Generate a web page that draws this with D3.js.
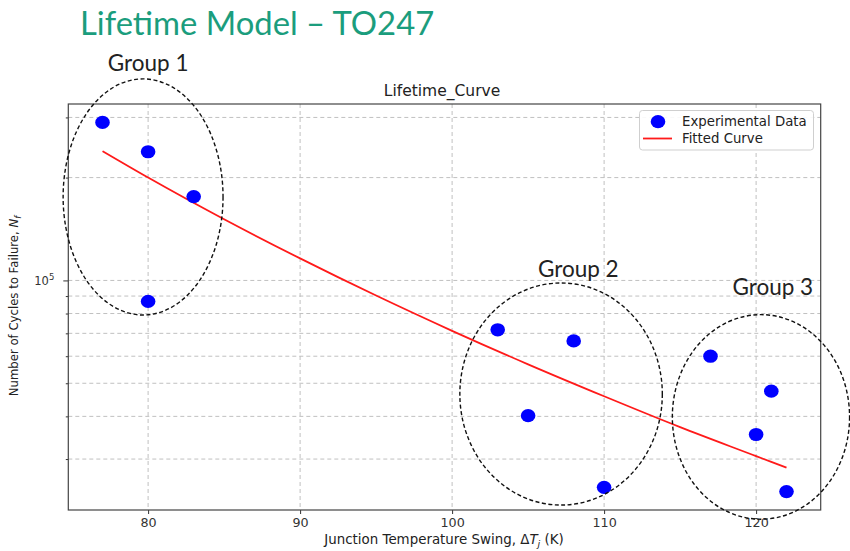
<!DOCTYPE html>
<html>
<head>
<meta charset="utf-8">
<script src="https://cdn.jsdelivr.net/npm/d3@7"></script>
<style>
  html, body { margin: 0; padding: 0; background: #fff; }
  svg { display: block; }
</style>
</head>
<body>
<svg id="chart" width="850" height="551"></svg>
<script>
// Measured thermal-cycling lifetimes (ΔTj in K, cycles to failure)
const deltaTj = [77, 80, 83, 80, 103, 105, 108, 110, 117, 120, 121, 122];
const cycles = [2.90e5, 2.38e5, 1.76e5, 8.68e4, 7.17e4, 4.02e4, 6.65e4, 2.48e4, 6.0e4, 3.54e4, 4.74e4, 2.41e4];

// Fitted lifetime curve, sampled along ΔTj
const fitTj = [77, 80, 85, 90, 95, 100, 105, 110, 115, 120, 122];
const fitCycles = [2.39e5, 2.00e5, 1.51e5, 1.16e5, 9.03e4, 7.12e4, 5.68e4, 4.58e4, 3.72e4, 3.06e4, 2.83e4];

// Axis ticks
const xTicks = [80, 90, 100, 110, 120];
const yMajorTicks = [1e5];
const yMinorTicks = [3e4, 4e4, 5e4, 6e4, 7e4, 8e4, 9e4, 2e5, 3e5];

// Group outlines: ΔTj range and cycle range each ellipse encloses
const groupNames = ["Group 1", "Group 2", "Group 3"];
const groupTj = [[74.41, 84.93], [100.51, 113.83], [114.49, 126.15]];
const groupCycles = [[7.92e4, 3.89e5], [2.20e4, 9.83e4], [2.00e4, 7.94e4]];
const groupLabelAt = [[80, 4.11e5], [108.3, 1.02e5], [121.1, 9.08e4]];

const svg = d3.select("#chart");
const plot = { left: 68.3, right: 820.7, top: 104, bottom: 510 };
const chartFont = "'DejaVu Sans', sans-serif";

// Axis limits with a 5% margin around the data (log margin on the y axis)
const xMin = d3.min(deltaTj), xMax = d3.max(deltaTj);
const xPad = (xMax - xMin) * 0.05;
const lMin = Math.log10(d3.min(cycles)), lMax = Math.log10(d3.max(cycles));
const lPad = (lMax - lMin) * 0.05;

const x = d3.scaleLinear().domain([xMin - xPad, xMax + xPad]).range([plot.left, plot.right]);
const y = d3.scaleLog().domain([Math.pow(10, lMin - lPad), Math.pow(10, lMax + lPad)]).range([plot.bottom, plot.top]);

svg.append("rect").attr("width", 850).attr("height", 551).attr("fill", "#fff");

// Slide title
svg.append("text")
  .attr("x", 80).attr("y", 35)
  .attr("font-family", "Lato, 'Open Sans', sans-serif")
  .attr("font-size", 32.8)
  .attr("fill", "#1b9d7d")
  .text("Lifetime Model – TO247");

// Grid
const grid = svg.append("g").attr("stroke", "#c0c0c0").attr("stroke-width", 1).attr("stroke-dasharray", "4,3");
grid.selectAll("line.gx").data(xTicks).join("line")
  .attr("x1", d => x(d)).attr("x2", d => x(d))
  .attr("y1", plot.top).attr("y2", plot.bottom);
grid.selectAll("line.gy").data(yMajorTicks.concat(yMinorTicks)).join("line")
  .attr("x1", plot.left).attr("x2", plot.right)
  .attr("y1", d => y(d)).attr("y2", d => y(d));

// Axes
const xAxis = d3.axisBottom(x).tickValues(xTicks).tickSize(4).tickPadding(4).tickFormat(d3.format("d"));
const gx = svg.append("g").attr("transform", `translate(0,${plot.bottom})`).call(xAxis);
gx.select(".domain").remove();
gx.selectAll("line").attr("stroke", "#333");
gx.selectAll("text").attr("font-family", chartFont).attr("font-size", 12.7).attr("fill", "#333");

const yMinorAxis = d3.axisLeft(y).tickValues(yMinorTicks).tickSize(2.5).tickFormat("");
const gyMinor = svg.append("g").attr("transform", `translate(${plot.left},0)`).call(yMinorAxis);
gyMinor.select(".domain").remove();
gyMinor.selectAll("line").attr("stroke", "#333");

const yAxis = d3.axisLeft(y).tickValues(yMajorTicks).tickSize(5).tickFormat("");
const gy = svg.append("g").attr("transform", `translate(${plot.left},0)`).call(yAxis);
gy.select(".domain").remove();
gy.selectAll("line").attr("stroke", "#333");
gy.selectAll(".tick").each(function(d) {
  const t = d3.select(this).append("text")
    .attr("x", -14).attr("dy", "0.38em")
    .attr("text-anchor", "end")
    .attr("font-family", chartFont)
    .attr("font-size", 11.5).attr("fill", "#333");
  t.append("tspan").text("10");
  t.append("tspan").attr("font-size", 8.5).attr("dy", "-0.6em").text(String(Math.round(Math.log10(d))));
});

// Plot frame
svg.append("rect")
  .attr("x", plot.left).attr("y", plot.top)
  .attr("width", plot.right - plot.left).attr("height", plot.bottom - plot.top)
  .attr("fill", "none").attr("stroke", "#444").attr("stroke-width", 1.2);

// Chart title and axis labels
svg.append("text")
  .attr("x", 442).attr("y", 96)
  .attr("text-anchor", "middle")
  .attr("font-family", chartFont).attr("font-size", 15.5).attr("fill", "#222")
  .text("Lifetime_Curve");

const xl = svg.append("text")
  .attr("x", 444).attr("y", 543.5)
  .attr("text-anchor", "middle")
  .attr("font-family", chartFont).attr("font-size", 13.4).attr("fill", "#222");
xl.append("tspan").text("Junction Temperature Swing, Δ");
xl.append("tspan").attr("font-style", "italic").text("T");
xl.append("tspan").attr("font-size", 9.5).attr("dy", 3).attr("font-style", "italic").text("j");
xl.append("tspan").attr("dy", -3).text(" (K)");

const yl = svg.append("text")
  .attr("transform", "translate(18,306) rotate(-90)")
  .attr("text-anchor", "middle")
  .attr("font-family", chartFont).attr("font-size", 11.7).attr("fill", "#222");
yl.append("tspan").text("Number of Cycles to Failure, ");
yl.append("tspan").attr("font-style", "italic").text("N");
yl.append("tspan").attr("font-style", "italic").attr("font-size", 8.5).attr("dy", 2.5).text("f");

// Fitted curve
const line = d3.line().x((d, i) => x(fitTj[i])).y((d, i) => y(fitCycles[i])).curve(d3.curveMonotoneX);
svg.append("path")
  .datum(fitCycles)
  .attr("d", line)
  .attr("fill", "none").attr("stroke", "#ff1a1a").attr("stroke-width", 1.8);

// Experimental points
svg.append("g").selectAll("ellipse").data(cycles).join("ellipse")
  .attr("cx", (d, i) => x(deltaTj[i]))
  .attr("cy", d => y(d))
  .attr("rx", 7.3).attr("ry", 6.6)
  .attr("fill", "#0000ff");

// Legend
const lg = svg.append("g");
lg.append("rect")
  .attr("x", 639.5).attr("y", 110.5).attr("width", 174).attr("height", 39.5).attr("rx", 3)
  .attr("fill", "#fff").attr("fill-opacity", 0.9).attr("stroke", "#cfcfcf");
lg.append("ellipse").attr("cx", 658).attr("cy", 121.7).attr("rx", 7.3).attr("ry", 6.6).attr("fill", "#0000ff");
lg.append("line").attr("x1", 643).attr("x2", 672).attr("y1", 138.5).attr("y2", 138.5)
  .attr("stroke", "#ff1a1a").attr("stroke-width", 1.8);
lg.append("text").attr("x", 682).attr("y", 125.5)
  .attr("font-family", chartFont).attr("font-size", 13.3).attr("fill", "#222")
  .text("Experimental Data");
lg.append("text").attr("x", 682).attr("y", 142.5)
  .attr("font-family", chartFont).attr("font-size", 13.3).attr("fill", "#222")
  .text("Fitted Curve");

// Group outlines and names
const groups = svg.append("g");
groupNames.forEach((name, i) => {
  const x0 = x(groupTj[i][0]), x1 = x(groupTj[i][1]);
  const y0 = y(groupCycles[i][1]), y1 = y(groupCycles[i][0]);
  groups.append("ellipse")
    .attr("cx", (x0 + x1) / 2).attr("cy", (y0 + y1) / 2)
    .attr("rx", (x1 - x0) / 2).attr("ry", (y1 - y0) / 2)
    .attr("fill", "none").attr("stroke", "#111").attr("stroke-width", 1.4)
    .attr("stroke-dasharray", "4,2.5");
  groups.append("text")
    .attr("x", x(groupLabelAt[i][0])).attr("y", y(groupLabelAt[i][1]))
    .attr("text-anchor", "middle")
    .attr("font-family", "Lato, 'Open Sans', sans-serif").attr("font-size", 22.5).attr("fill", "#222")
    .text(name);
});
</script>
</body>
</html>
